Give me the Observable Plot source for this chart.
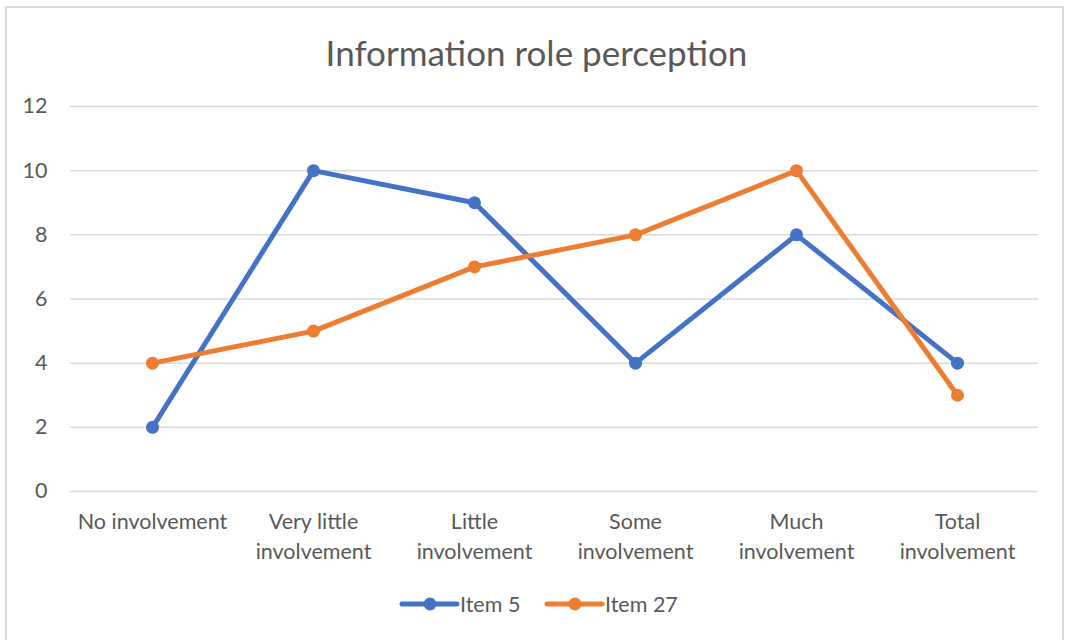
<!DOCTYPE html>
<html>
<head>
<meta charset="utf-8">
<script src="https://cdn.jsdelivr.net/npm/d3@7"></script>
<script src="https://cdn.jsdelivr.net/npm/@observablehq/plot@0.6"></script>
<style>
  html, body { margin: 0; padding: 0; background: #fff; }
  body { width: 1067px; height: 640px; position: relative; overflow: hidden; font-family: Lato, "Open Sans", sans-serif; }
  #frame { position: absolute; left: 5px; top: 6px; width: 1059px; height: 650px; border: 2px solid #d9d9d9; box-sizing: border-box; }
  #title { position: absolute; left: 0; top: 28px; width: 1073px; text-align: center; font-size: 35px; color: #595959; line-height: 48px; }
  #chart { position: absolute; left: 0; top: 0; }
  #legend { position: absolute; left: 0; top: 590px; width: 1067px; height: 30px; }
</style>
</head>
<body>
<div id="frame"></div>
<div id="chart"></div>
<div id="title">Information role perception</div>
<svg id="legend" width="1067" height="30"></svg>
<script>
const categories = ["No involvement", "Very little involvement", "Little involvement", "Some involvement", "Much involvement", "Total involvement"];
const tickLabels = ["No involvement", "Very little\ninvolvement", "Little\ninvolvement", "Some\ninvolvement", "Much\ninvolvement", "Total\ninvolvement"];
const seriesNames = ["Item 5", "Item 27"];
const item5 = [2, 10, 9, 4, 8, 4];
const item27 = [4, 5, 7, 8, 10, 3];
const colors = ["#4472C4", "#ED7D31"];
const yTicks = [0, 2, 4, 6, 8, 10, 12];

const data = [];
[item5, item27].forEach((vals, s) => vals.forEach((v, i) => data.push({cat: categories[i], value: v, series: seriesNames[s]})));

const labelMap = new Map(categories.map((c, i) => [c, tickLabels[i]]));

const chart = Plot.plot({
  width: 1067,
  height: 580,
  marginTop: 106,
  marginBottom: 89,
  marginLeft: 70,
  marginRight: 29,
  style: {fontFamily: "Lato, 'Open Sans', sans-serif", background: "transparent", color: "#595959"},
  x: {type: "point", domain: categories, padding: 0.5},
  y: {domain: [0, 12], ticks: yTicks},
  color: {domain: seriesNames, range: colors},
  marks: [
    Plot.gridY(yTicks, {stroke: "#d9d9d9", strokeOpacity: 1, strokeWidth: 1.5}),
    Plot.axisY(yTicks, {tickSize: 0, tickPadding: 23, fontSize: 21.5, fill: "#595959", label: null}),
    Plot.axisX({tickSize: 0, tickPadding: 16, fontSize: 21.5, lineHeight: 1.4, fill: "#595959", label: null, tickFormat: d => labelMap.get(d)}),
    Plot.line(data, {x: "cat", y: "value", z: "series", stroke: "series", strokeWidth: 5, strokeLinejoin: "round", strokeLinecap: "round"}),
    Plot.dot(data, {x: "cat", y: "value", fill: "series", r: 6.5, stroke: "none"})
  ]
});
document.getElementById("chart").appendChild(chart);

// legend
const lg = d3.select("#legend");
const starts = [402, 547];
seriesNames.forEach((name, i) => {
  const x0 = starts[i];
  lg.append("line").attr("x1", x0).attr("x2", x0 + 55).attr("y1", 14).attr("y2", 14)
    .attr("stroke", colors[i]).attr("stroke-width", 5).attr("stroke-linecap", "round");
  lg.append("circle").attr("cx", x0 + 28).attr("cy", 14).attr("r", 6.5).attr("fill", colors[i]);
  lg.append("text").attr("x", x0 + 58).attr("y", 14).attr("dy", "0.35em")
    .attr("font-size", 21.5).attr("fill", "#595959").attr("font-family", "Lato, 'Open Sans', sans-serif").text(name);
});
</script>
</body>
</html>
